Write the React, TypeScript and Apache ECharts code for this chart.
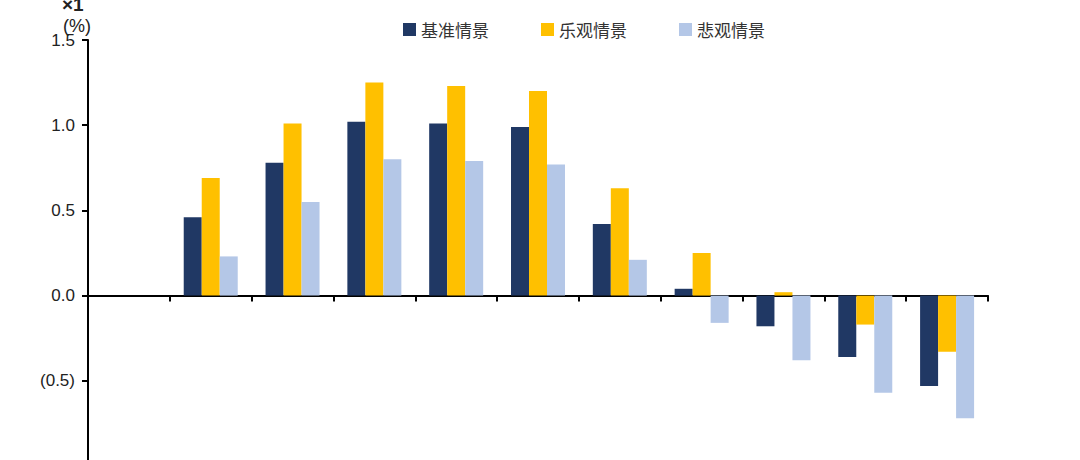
import React, { useEffect, useRef } from "react";
import * as echarts from "echarts";

const categories = ["0", "1", "2", "3", "4", "5", "6", "7", "8", "9", "10"];
const seriesNames = ["基准情景", "乐观情景", "悲观情景"];
const baseline = [null, 0.46, 0.78, 1.02, 1.01, 0.99, 0.42, 0.04, -0.18, -0.36, -0.53];
const optimistic = [null, 0.69, 1.01, 1.25, 1.23, 1.2, 0.63, 0.25, 0.02, -0.17, -0.33];
const pessimistic = [null, 0.23, 0.55, 0.8, 0.79, 0.77, 0.21, -0.16, -0.38, -0.57, -0.72];
const colors = ["#203864", "#FFC000", "#B4C7E7"];

export default function App() {
  const ref = useRef<HTMLDivElement>(null);
  useEffect(() => {
    document.body.style.margin = "0";
    document.body.style.overflow = "hidden";
    const chart = echarts.init(ref.current!, null, { renderer: "svg" });
    const valueSets = [baseline, optimistic, pessimistic];
    chart.setOption({
      animation: false,
      backgroundColor: "#ffffff",
      textStyle: { fontFamily: "Liberation Sans, Arial, sans-serif" },
      legend: {
        left: 398,
        top: 16,
        itemWidth: 13,
        itemHeight: 13,
        itemGap: 52,
        icon: "rect",
        textStyle: {
          fontFamily: "'Noto Sans CJK SC', sans-serif",
          fontSize: 17,
          color: "#333",
        },
        data: seriesNames,
      },
      grid: {
        left: 88,
        right: 92,
        top: 40,
        bottom: 0,
        containLabel: false,
        outerBoundsMode: "none",
      },
      xAxis: {
        type: "category",
        data: categories,
        axisLine: { onZero: true, lineStyle: { color: "#000", width: 2 } },
        axisTick: { show: true, length: 6, lineStyle: { color: "#000", width: 2 } },
        axisLabel: { show: false },
        splitLine: { show: false },
      },
      yAxis: {
        type: "value",
        min: -1,
        max: 1.5,
        interval: 0.5,
        axisLine: { show: true, lineStyle: { color: "#000", width: 2 } },
        axisTick: { show: true, length: 6, lineStyle: { color: "#000", width: 2 } },
        splitLine: { show: false },
        axisLabel: {
          margin: 13,
          fontSize: 17,
          color: "#222",
          fontFamily: "Liberation Sans, Arial, sans-serif",
          formatter: (v: number) =>
            v < 0 ? "(" + Math.abs(v).toFixed(1) + ")" : v.toFixed(1),
        },
      },
      graphic: [
        {
          type: "text",
          left: 62,
          top: -5,
          style: {
            text: "×1",
            fontSize: 19,
            fontWeight: "bold",
            fill: "#222",
            fontFamily: "Liberation Sans, Arial, sans-serif",
          },
        },
        {
          type: "text",
          left: 63,
          top: 17,
          style: {
            text: "(%)",
            fontSize: 18,
            fill: "#222",
            fontFamily: "Liberation Sans, Arial, sans-serif",
          },
        },
      ],
      series: seriesNames.map((name, i) => ({
        name,
        type: "bar",
        data: valueSets[i],
        barWidth: 18,
        barGap: "0%",
        itemStyle: { color: colors[i] },
      })),
    });
    return () => chart.dispose();
  }, []);
  return (
    <div
      style={{
        position: "fixed",
        left: 0,
        top: 0,
        width: 1080,
        height: 460,
        overflow: "hidden",
        background: "#fff",
      }}
    >
      <div ref={ref} style={{ width: 1080, height: 466 }} />
    </div>
  );
}
